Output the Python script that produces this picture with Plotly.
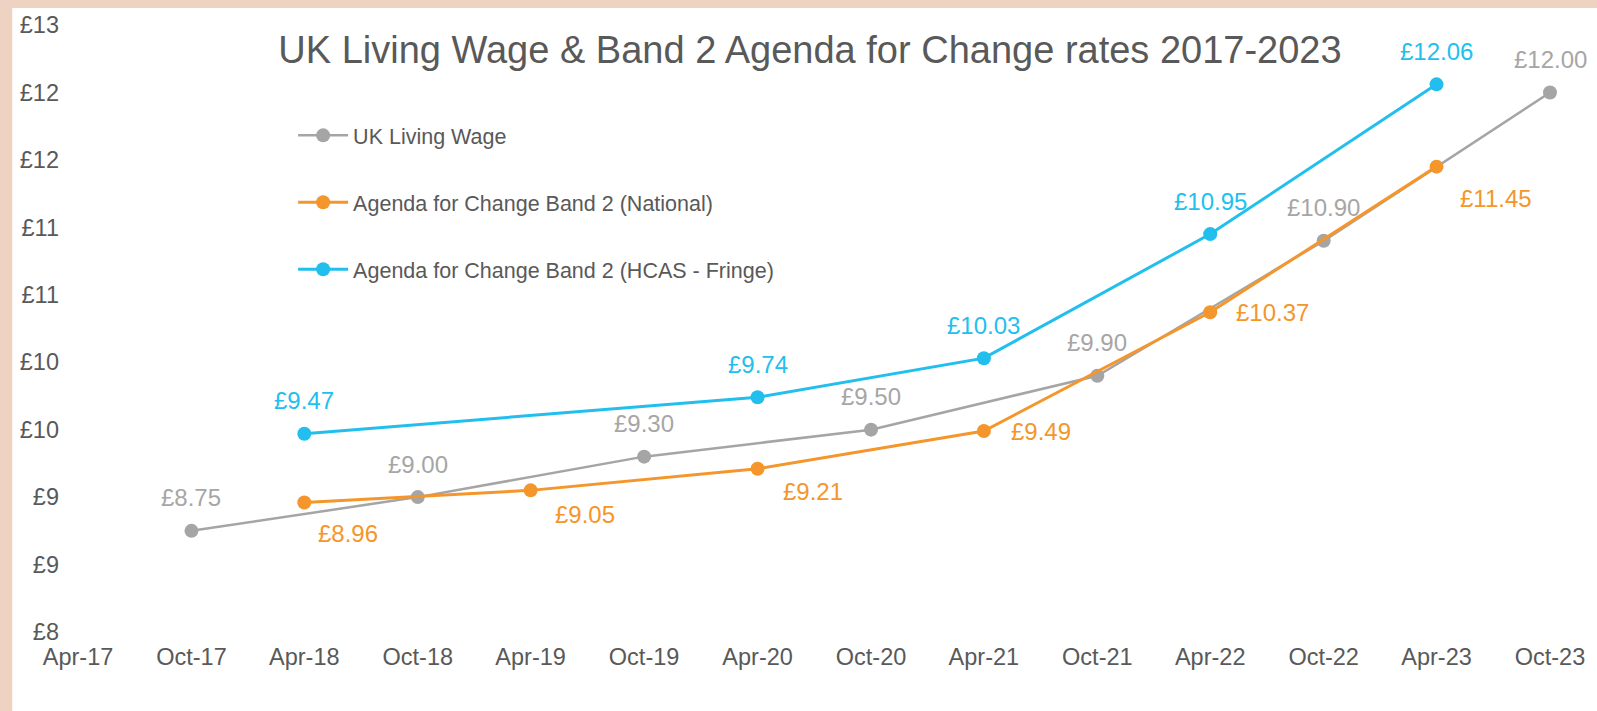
import plotly.graph_objects as go

# ---- data ----
lw_dates = ["2017-10-01", "2018-10-01", "2019-10-01", "2020-10-01", "2021-10-01", "2022-10-01", "2023-10-01"]
lw_values = [8.75, 9.00, 9.30, 9.50, 9.90, 10.90, 12.00]

nat_dates = ["2018-04-01", "2019-04-01", "2020-04-01", "2021-04-01", "2022-04-01", "2023-04-01"]
nat_values = [8.96, 9.05, 9.21, 9.49, 10.37, 11.45]

hcas_dates = ["2018-04-01", "2020-04-01", "2021-04-01", "2022-04-01", "2023-04-01"]
hcas_values = [9.47, 9.74, 10.03, 10.95, 12.06]

series_names = [
    "UK Living Wage",
    "Agenda for Change Band 2 (National)",
    "Agenda for Change Band 2 (HCAS - Fringe)",
]
title_text = "UK Living Wage & Band 2 Agenda for Change rates 2017-2023"

# ---- style ----
FONT = "Liberation Sans, Arial, sans-serif"
GRAY = "#A5A5A5"
ORANGE = "#F4962B"
BLUE = "#22BFEE"
TEXT = "#595959"
PEACH = "#EED3C2"

# label offsets (pixels) per point: (xanchor, xshift, yshift)
lw_label_style = [("center", 0, 33)] * len(lw_values)
hcas_label_style = [("center", 0, 33)] * len(hcas_values)
nat_label_style = [("left", 12, -31), ("left", 22, -24), ("left", 23, -23),
                   ("left", 25, 0), ("left", 24, 0), ("left", 21, -32)]

W, H = 1597, 711
ML, MR, MT, MB = 78, 41, 24, 79
PW, PH = W - ML - MR, H - MT - MB
BORDER_L, BORDER_T = 12, 7

fig = go.Figure()
series = [
    (series_names[0], lw_dates, lw_values, GRAY, 2.5, lw_label_style, "#A6A6A6"),
    (series_names[1], nat_dates, nat_values, ORANGE, 3, nat_label_style, ORANGE),
    (series_names[2], hcas_dates, hcas_values, BLUE, 3, hcas_label_style, BLUE),
]

annotations = []
for i, (name, xs, ys, col, lw, lstyle, tcol) in enumerate(series):
    fig.add_trace(go.Scatter(
        x=xs, y=ys, name=name, mode="lines+markers",
        line=dict(color=col, width=lw),
        marker=dict(color=col, size=14),
        legendgroup=f"g{i}", hoverinfo="skip", cliponaxis=False,
    ))
    for xv, yv, (xa, dx, dy) in zip(xs, ys, lstyle):
        annotations.append(dict(
            x=xv, y=yv, xref="x", yref="y", text=f"£{yv:.2f}",
            showarrow=False, xanchor=xa, yanchor="middle",
            xshift=dx, yshift=dy,
            font=dict(family=FONT, size=24, color=tcol),
        ))

# peach frame strips on the left and top edges of the picture
x_left = -ML / PW - 0.01
y_bottom = -MB / PH - 0.01
y_top = (H - MB) / PH + 0.01
x_right = (W - ML) / PW + 0.01
fig.add_shape(type="rect", xref="paper", yref="paper",
              x0=x_left, x1=(BORDER_L - ML) / PW, y0=y_bottom, y1=y_top,
              fillcolor=PEACH, line=dict(width=0), layer="below")
fig.add_shape(type="rect", xref="paper", yref="paper",
              x0=x_left, x1=x_right, y0=(H - MB - BORDER_T) / PH, y1=y_top,
              fillcolor=PEACH, line=dict(width=0), layer="below")

fig.update_layout(
    width=W, height=H,
    margin=dict(l=ML, r=MR, t=MT, b=MB, pad=0),
    paper_bgcolor="white", plot_bgcolor="white",
    font=dict(family=FONT, color=TEXT),
    title=dict(text=title_text, x=810 / W, xref="container", xanchor="center",
               y=1 - 49.5 / H, yref="container", yanchor="middle",
               font=dict(family=FONT, size=38, color=TEXT)),
    showlegend=True,
    legend=dict(x=(294 - ML) / PW, y=1 - (114 - MT) / PH, xanchor="left", yanchor="top",
                bgcolor="rgba(0,0,0,0)", font=dict(family=FONT, size=21.5, color=TEXT),
                tracegroupgap=36, itemwidth=50),
    annotations=annotations,
    xaxis=dict(type="date", range=["2017-04-01", "2023-10-01"], tick0="2017-04-01", dtick="M6",
               tickformat="%b-%y", showgrid=False, zeroline=False, showline=False, ticks="",
               tickfont=dict(family=FONT, size=23.5, color=TEXT), ticklabelstandoff=8),
    yaxis=dict(range=[8, 12.5], tick0=8, dtick=0.5, tickprefix="£", tickformat=".0f",
               showgrid=False, zeroline=False, showline=False, ticks="",
               tickfont=dict(family=FONT, size=23.5, color=TEXT), ticklabelstandoff=18),
)

fig.write_html("out.html", config={"displayModeBar": False},
               post_script="document.body.style.margin='0';document.body.style.overflow='hidden';")
